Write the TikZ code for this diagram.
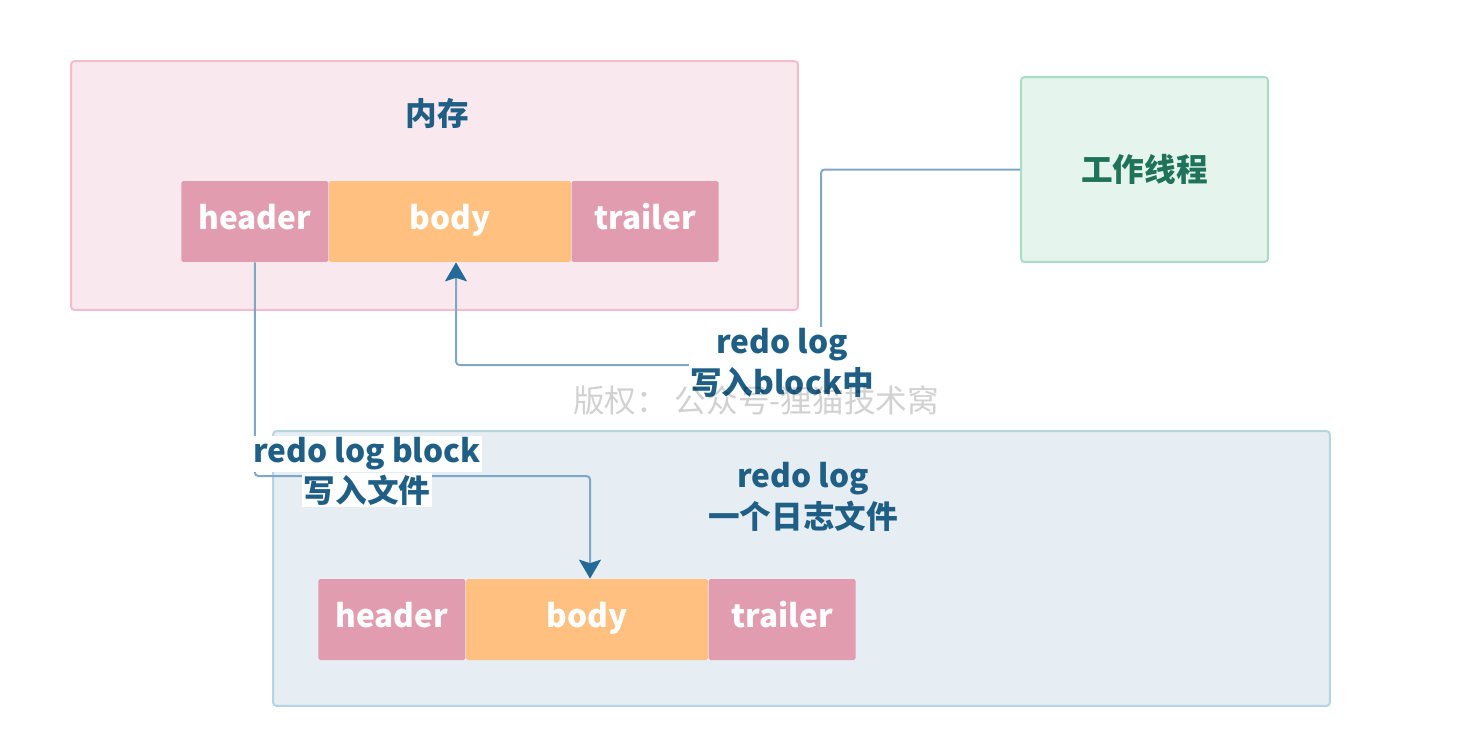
\documentclass[tikz,border=0pt]{standalone}
\usepackage{fontspec}
\setmainfont{Noto Sans CJK SC}
\usetikzlibrary{positioning,arrows.meta}
\definecolor{memfill}{HTML}{F9E9EF}
\definecolor{memdraw}{HTML}{F3BDCB}
\definecolor{hdrfill}{HTML}{E29CAF}
\definecolor{bdyfill}{HTML}{FFC080}
\definecolor{workfill}{HTML}{E6F4EE}
\definecolor{workdraw}{HTML}{A9DDC9}
\definecolor{logfill}{HTML}{E6EEF3}
\definecolor{logdraw}{HTML}{B5D5E2}
\definecolor{textblue}{HTML}{1F5F86}
\definecolor{tipblue}{HTML}{236B96}
\definecolor{linkblue}{HTML}{7EA8C4}
\definecolor{workgreen}{HTML}{1E7358}

\begin{document}
\begin{tikzpicture}[x=0.02cm, y=-0.02cm, every node/.style={font=\fontsize{18}{23}\selectfont},
    area/.style={draw, line width=0.04cm, rounded corners=2pt},
    part/.style={minimum height=1.62cm, inner sep=0pt, text=white, rounded corners=1pt, text height=13pt, text depth=4pt, font=\fontsize{18}{23}\selectfont\bfseries},
    hdr/.style={part, fill=hdrfill, minimum width=2.94cm},
    bdy/.style={part, fill=bdyfill, minimum width=4.84cm},
    title/.style={text=textblue, font=\fontsize{18}{23}\selectfont\bfseries, align=center},
    lbl/.style={title, fill=white, inner sep=1pt},
    link/.style={draw=linkblue, line width=0.04cm, rounded corners=2pt},
    arr/.style={link, -{Stealth[length=0.38cm, width=0.44cm, inset=0.07cm, color=tipblue]}}]
  \useasboundingbox (0,0) rectangle (1474,744);
  \node[area, draw=memdraw, fill=memfill, minimum width=14.54cm, minimum height=4.98cm] (mem) at (434.5,185.5) {};
  \node[title] (memtitle) at (437,113) {内存};
  \node[area, draw=workdraw, fill=workfill, minimum width=4.94cm, minimum height=3.7cm, text=workgreen, font=\fontsize{18}{23}\selectfont\bfseries] (worker) at (1144.5,169.5) {工作线程};
  \node[area, draw=logdraw, fill=logfill, minimum width=21.14cm, minimum height=5.5cm] (log) at (801.5,568.5) {};
  \node[title] (logtitle) at (803,497) {redo log\\一个日志文件};
  \node[hdr, anchor=west] (hdr1) at (181,221.5) {header};
  \node[bdy, right=0pt of hdr1] (bdy1) {body};
  \node[hdr, right=0pt of bdy1] (trl1) {trailer};
  \node[hdr, anchor=west] (hdr2) at (318,619.5) {header};
  \node[bdy, right=0pt of hdr2] (bdy2) {body};
  \node[hdr, right=0pt of bdy2] (trl2) {trailer};
  \coordinate (turn1) at (821,365);
  \coordinate (turn2) at (590,476);
  \draw[arr] (worker.west) -| (turn1) -| ([xshift=0.12cm]bdy1.south);
  \draw[arr] (hdr1.south) |- (turn2) -- (turn2 |- bdy2.north);
  \node[lbl] (lbl1) at (782,363) {redo log\\写入block中};
  \node[lbl] (lbl2a) at (367,454) {redo log block};
  \node[lbl, below=0pt of lbl2a] (lbl2b) {写入文件};
  \node[text=black, opacity=0.18, font=\fontsize{18}{20}\selectfont] (mark) at (756,400) {版权：\ 公众号-狸猫技术窝};
\end{tikzpicture}
\end{document}
